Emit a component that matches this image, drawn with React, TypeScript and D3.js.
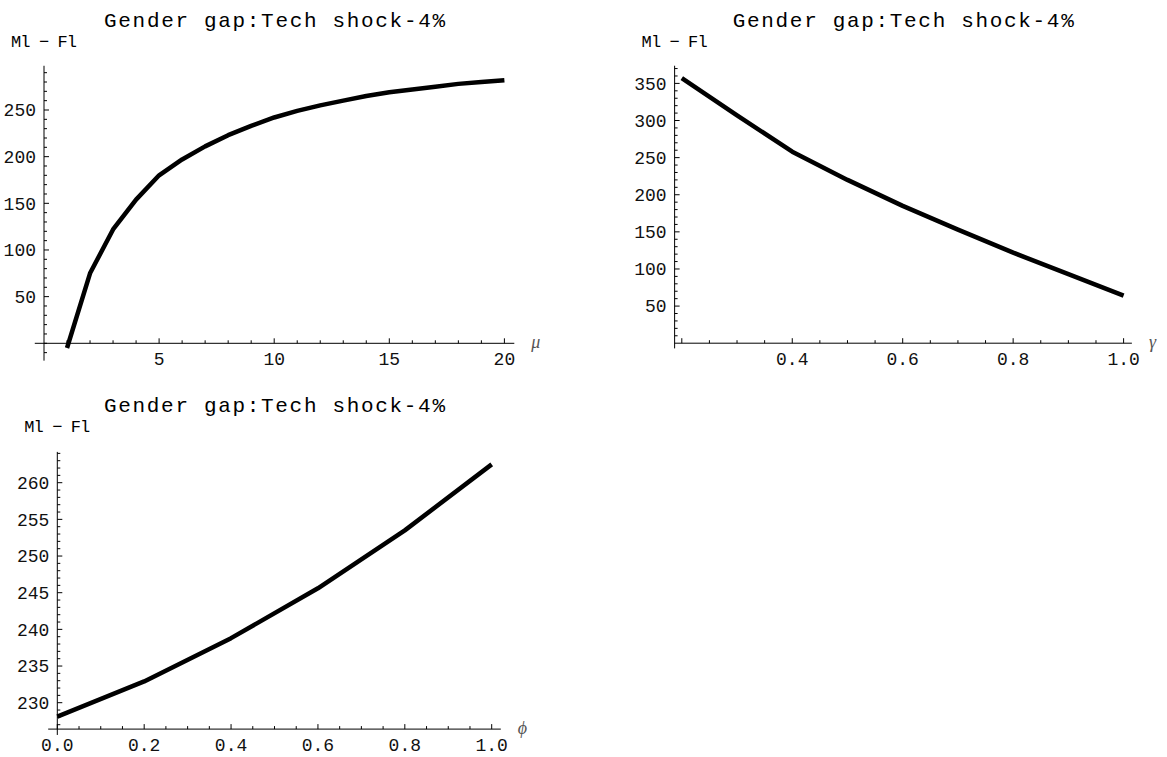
import React from "react";
import * as d3 from "d3";

// ---------- data ----------
const muValues = [1, 2, 3, 4, 5, 6, 7, 8, 9, 10, 11, 12, 13, 14, 15, 16, 17, 18, 19, 20];
const gapByMu = [-5, 75, 122, 154, 180, 197, 211, 223, 233, 242, 249, 255, 260, 265, 269, 272, 275, 278, 280, 282];

const gammaValues = [0.2, 0.3, 0.4, 0.5, 0.6, 0.7, 0.8, 0.9, 1.0];
const gapByGamma = [357, 307, 258, 220, 185, 153, 122, 93, 64];

const phiValues = [0, 0.2, 0.4, 0.6, 0.8, 1.0];
const gapByPhi = [228.1, 232.9, 238.8, 245.6, 253.5, 262.5];

const titleText = "Gender gap:Tech shock-4%";
const yLabelText = "Ml \u2212 Fl";

const muTickLabels = [5, 10, 15, 20];
const muYTickLabels = [50, 100, 150, 200, 250];
const gammaTickLabels = [0.4, 0.6, 0.8, 1.0];
const gammaYTickLabels = [50, 100, 150, 200, 250, 300, 350];
const phiTickLabels = [0, 0.2, 0.4, 0.6, 0.8, 1.0];
const phiYTickLabels = [230, 235, 240, 245, 250, 255, 260];

// ---------- layout ----------
type PanelCfg = {
  xs: number[];
  ys: number[];
  xDomain: [number, number];
  xRange: [number, number];
  yDomain: [number, number];
  yRange: [number, number];
  xAxisAt: number;
  yAxisAt: number;
  xLine: [number, number];
  yLine: [number, number];
  xMajor: number[];
  xMajorLabels: number[];
  xMinorStep: number;
  xMinorFrom: number;
  xMinorTo: number;
  yMajorLabels: number[];
  yMinorStep: number;
  yMinorFrom: number;
  yMinorTo: number;
  xFmt: (v: number) => string;
  varName: string;
  titleY: number;
  labelY: number;
};

const MONO = "'Liberation Mono', 'Courier New', monospace";

function Panel({ c }: { c: PanelCfg }) {
  const x = d3.scaleLinear().domain(c.xDomain).range(c.xRange);
  const y = d3.scaleLinear().domain(c.yDomain).range(c.yRange);
  const axY = y(c.xAxisAt);
  const axX = x(c.yAxisAt);
  const x0 = x(c.xLine[0]);
  const x1 = x(c.xLine[1]);
  const y0 = y(c.yLine[0]);
  const y1 = y(c.yLine[1]);
  const line = d3
    .line<number>()
    .x((_, i) => x(c.xs[i]))
    .y((d) => y(d));
  const eps = 1e-6;
  const xMinor = d3
    .range(c.xMinorFrom, c.xMinorTo + eps, c.xMinorStep)
    .filter((v) => !c.xMajor.some((m) => Math.abs(m - v) < eps));
  const yMinor = d3
    .range(c.yMinorFrom, c.yMinorTo + eps, c.yMinorStep)
    .filter((v) => !c.yMajorLabels.some((m) => Math.abs(m - v) < eps));
  const cx = (x0 + x1) / 2;
  return (
    <g>
      <text
        x={cx}
        y={c.titleY}
        textAnchor="middle"
        fontFamily={MONO}
        fontSize={21}
        textLength={341}
        lengthAdjust="spacing"
        fill="#000"
      >
        {titleText}
      </text>
      <text
        x={axX}
        y={c.labelY}
        textAnchor="middle"
        fontFamily={MONO}
        fontSize={17}
        textLength={66}
        lengthAdjust="spacing"
        fill="#000"
      >
        {yLabelText}
      </text>
      <line x1={x0} x2={x1} y1={axY} y2={axY} stroke="#000" strokeWidth={1} />
      <line x1={axX} x2={axX} y1={y0} y2={y1} stroke="#000" strokeWidth={1} />
      {c.xMajor.map((v, i) => (
        <line key={"xM" + i} x1={x(v)} x2={x(v)} y1={axY} y2={axY - 5} stroke="#000" strokeWidth={1} />
      ))}
      {xMinor.map((v, i) => (
        <line key={"xm" + i} x1={x(v)} x2={x(v)} y1={axY} y2={axY - 3} stroke="#000" strokeWidth={1} />
      ))}
      {c.xMajorLabels.map((v, i) => (
        <text
          key={"xl" + i}
          x={x(v)}
          y={axY + 22}
          textAnchor="middle"
          fontFamily={MONO}
          fontSize={18}
          fill="#111"
        >
          {c.xFmt(v)}
        </text>
      ))}
      {c.yMajorLabels.map((v, i) => (
        <line key={"yM" + i} x1={axX} x2={axX + 5} y1={y(v)} y2={y(v)} stroke="#000" strokeWidth={1} />
      ))}
      {yMinor.map((v, i) => (
        <line key={"ym" + i} x1={axX} x2={axX + 3} y1={y(v)} y2={y(v)} stroke="#000" strokeWidth={1} />
      ))}
      {c.yMajorLabels.map((v, i) => (
        <text
          key={"yl" + i}
          x={axX - 8}
          y={y(v)}
          dy="0.35em"
          textAnchor="end"
          fontFamily={MONO}
          fontSize={18}
          fill="#111"
        >
          {String(v)}
        </text>
      ))}
      <text
        x={x1 + 17}
        y={axY + 5}
        fontFamily="'Liberation Serif', 'DejaVu Serif', serif"
        fontStyle="italic"
        fontSize={18}
        fill="#555"
      >
        {c.varName}
      </text>
      <path d={line(c.ys) || ""} fill="none" stroke="#000" strokeWidth={4.5} strokeLinejoin="round" />
    </g>
  );
}

const fmt1 = (v: number) => v.toFixed(1);

const panels: PanelCfg[] = [
  {
    xs: muValues,
    ys: gapByMu,
    xDomain: [0, 20],
    xRange: [44, 504.4],
    yDomain: [0, 250],
    yRange: [343.3, 110],
    xAxisAt: 0,
    yAxisAt: 0,
    xLine: [-0.4, 20.43],
    yLine: [-18.6, 297.4],
    xMajor: muTickLabels,
    xMajorLabels: muTickLabels,
    xMinorStep: 1,
    xMinorFrom: 1,
    xMinorTo: 20,
    yMajorLabels: muYTickLabels,
    yMinorStep: 10,
    yMinorFrom: -10,
    yMinorTo: 290,
    xFmt: (v) => String(v),
    varName: "\u03bc",
    titleY: 26.7,
    labelY: 46.7,
  },
  {
    xs: gammaValues,
    ys: gapByGamma,
    xDomain: [0.2, 1.0],
    xRange: [681.8, 1123.6],
    yDomain: [0, 350],
    yRange: [343.2, 83.4],
    xAxisAt: 0,
    yAxisAt: 0.187,
    xLine: [0.187, 1.015],
    yLine: [-7, 373.8],
    xMajor: [0.2, 0.4, 0.6, 0.8, 1.0],
    xMajorLabels: gammaTickLabels,
    xMinorStep: 0.05,
    xMinorFrom: 0.2,
    xMinorTo: 1.0,
    yMajorLabels: gammaYTickLabels,
    yMinorStep: 10,
    yMinorFrom: 10,
    yMinorTo: 370,
    xFmt: fmt1,
    varName: "\u03b3",
    titleY: 26.7,
    labelY: 46.7,
  },
  {
    xs: phiValues,
    ys: gapByPhi,
    xDomain: [0, 1],
    xRange: [57.3, 491.7],
    yDomain: [230, 260],
    yRange: [702.7, 482.7],
    xAxisAt: 226.4,
    yAxisAt: 0,
    xLine: [-0.021, 1.021],
    yLine: [225.6, 264.2],
    xMajor: phiTickLabels,
    xMajorLabels: phiTickLabels,
    xMinorStep: 0.05,
    xMinorFrom: 0,
    xMinorTo: 1.0,
    yMajorLabels: phiYTickLabels,
    yMinorStep: 1,
    yMinorFrom: 227,
    yMinorTo: 264,
    xFmt: fmt1,
    varName: "\u03d5",
    titleY: 411.7,
    labelY: 431.7,
  },
];

export default function App() {
  return (
    <svg
      width={1167}
      height={757}
      viewBox="0 0 1167 757"
      style={{ position: "absolute", left: 0, top: 0, background: "#fff" }}
    >
      <rect x={0} y={0} width={1167} height={757} fill="#fff" />
      {panels.map((p, i) => (
        <Panel key={i} c={p} />
      ))}
    </svg>
  );
}
